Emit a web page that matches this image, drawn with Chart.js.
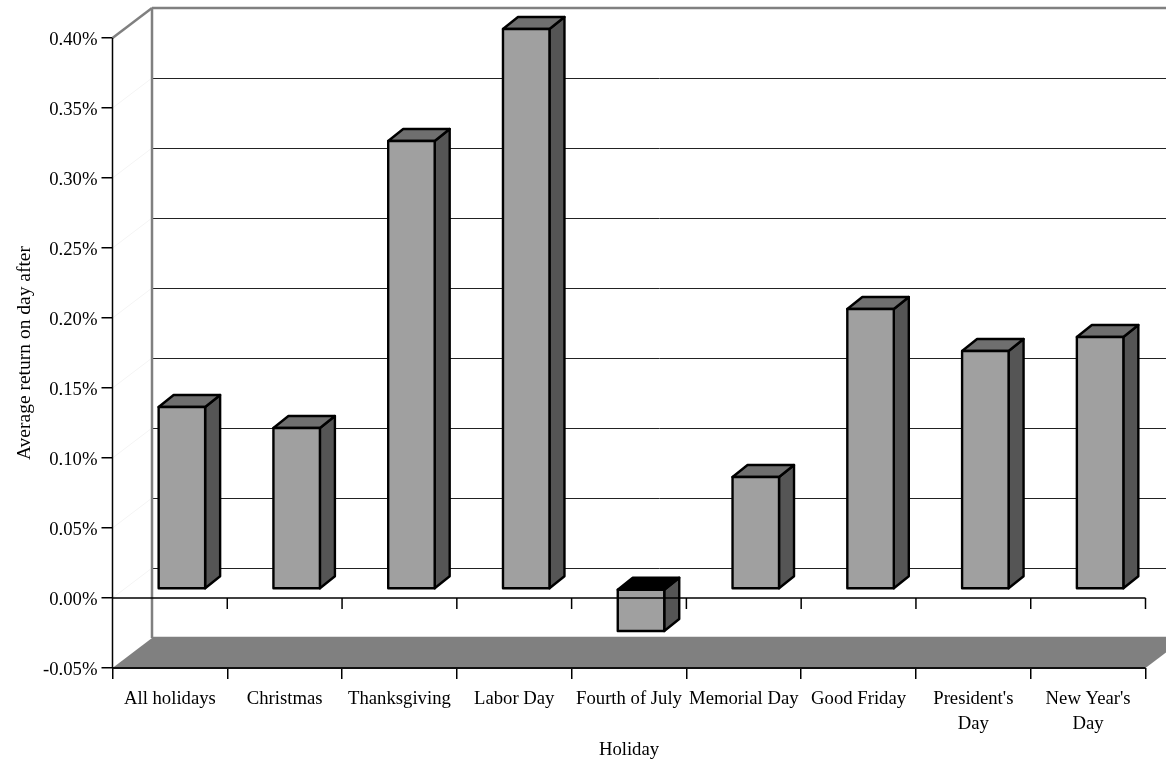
<!DOCTYPE html>
<html>
<head>
<meta charset="utf-8">
<title>Average return on day after holiday</title>
<script src="https://cdn.jsdelivr.net/npm/chart.js@4"></script>
<style>
  html, body { margin: 0; padding: 0; background: #fff; }
  canvas { display: block; }
</style>
</head>
<body>
<canvas id="chart" width="1166" height="760"></canvas>
<script>
const holidays = ['All holidays', 'Christmas', 'Thanksgiving', 'Labor Day', 'Fourth of July',
  'Memorial Day', 'Good Friday', ["President's", 'Day'], ["New Year's", 'Day']]
const avgReturn = [0.13, 0.115, 0.32, 0.40, -0.03, 0.08, 0.20, 0.17, 0.18]
const wallTicks = [-0.05, 0, 0.05, 0.10, 0.15, 0.20, 0.25, 0.30, 0.35, 0.40]

const fontFamily = '"Liberation Serif", "Times New Roman", serif'
const wallDepth = { x: 39.5, y: -30 }
const barShift = { x: 12, y: -9 }
const barDepth = { x: 15, y: -12 }

function fillPoly(ctx, pts, fill, stroke, width) {
  ctx.beginPath()
  pts.forEach((p, i) => i ? ctx.lineTo(p[0], p[1]) : ctx.moveTo(p[0], p[1]))
  ctx.closePath()
  if (fill) { ctx.fillStyle = fill; ctx.fill() }
  if (stroke) { ctx.strokeStyle = stroke; ctx.lineWidth = width; ctx.stroke() }
}

function line(ctx, x1, y1, x2, y2, color, width) {
  ctx.beginPath()
  ctx.moveTo(x1, y1)
  ctx.lineTo(x2, y2)
  ctx.strokeStyle = color
  ctx.lineWidth = width
  ctx.stroke()
}

// back wall, side wall and floor
const wallPlugin = {
  id: 'wall',
  beforeDatasetsDraw(chart) {
    const { ctx, chartArea: a, scales: { y } } = chart
    const dx = wallDepth.x, dy = wallDepth.y
    ctx.save()
    wallTicks.forEach(v => {
      const py = y.getPixelForValue(v)
      const edge = v === wallTicks[0] || v === wallTicks[wallTicks.length - 1]
      if (!edge) {
        line(ctx, a.left, py, a.left + dx, py + dy, '#f4f4f4', 1)
        line(ctx, a.left + dx, py + dy + 0.5, a.right + dx, py + dy + 0.5, '#222', 1)
      } else {
        line(ctx, a.left + dx, py + dy, a.right + dx, py + dy, '#808080', 2.5)
      }
    })
    const top = y.getPixelForValue(0.40), bottom = y.getPixelForValue(-0.05)
    line(ctx, a.left, top, a.left + dx, top + dy, '#808080', 2.5)
    line(ctx, a.left + dx, top + dy, a.left + dx, bottom + dy, '#808080', 2.5)
    fillPoly(ctx, [[a.left, bottom], [a.left + dx, bottom + dy], [a.right + dx, bottom + dy], [a.right, bottom]], '#808080')
    line(ctx, a.left, bottom, a.right, bottom, '#111', 2)
    line(ctx, a.left, top, a.left, bottom, '#000', 1.5)
    ctx.restore()
  },
  beforeDatasetDraw(chart) {
    const ctx = chart.ctx
    ctx.save()
    ctx.translate(barShift.x, barShift.y)
    ctx.lineJoin = 'round'
    chart.getDatasetMeta(0).data.forEach((el, i) => {
      const l = el.x - el.width / 2, r = el.x + el.width / 2
      const t = Math.min(el.y, el.base), b = Math.max(el.y, el.base)
      const dx = barDepth.x, dy = barDepth.y
      fillPoly(ctx, [[r, t], [r + dx, t + dy], [r + dx, b + dy], [r, b]], '#555555', '#000', 2.4)
      fillPoly(ctx, [[l, t], [l + dx, t + dy], [r + dx, t + dy], [r, t]], avgReturn[i] < 0 ? '#000000' : '#6f6f6f', '#000', 2.4)
    })
  },
  afterDatasetDraw(chart) {
    const ctx = chart.ctx
    chart.getDatasetMeta(0).data.forEach(el => {
      const l = el.x - el.width / 2, r = el.x + el.width / 2
      fillPoly(ctx, [[l, el.y], [r, el.y], [r, el.base], [l, el.base]], null, '#000', 2.4)
    })
    ctx.restore()
  },
  // the zero line runs in front of the bars
  afterDatasetsDraw(chart) {
    const { ctx, chartArea: a, scales: { x, y } } = chart
    const py = y.getPixelForValue(0)
    ctx.save()
    line(ctx, a.left, py, a.right, py, '#000', 1.5)
    const step = (a.right - a.left) / holidays.length
    holidays.forEach((h, i) => {
      const px = x.getPixelForValue(i) + step / 2
      line(ctx, px, py, px, py + 11, '#000', 1.5)
    })
    ctx.restore()
  }
}

new Chart(document.getElementById('chart'), {
  type: 'bar',
  plugins: [wallPlugin],
  data: {
    labels: holidays,
    datasets: [{
      data: avgReturn,
      backgroundColor: '#a0a0a0',
      borderWidth: 0,
      categoryPercentage: 1,
      barPercentage: 0.405,
      clip: false
    }]
  },
  options: {
    responsive: false,
    animation: false,
    layout: { padding: { top: 38, right: 20.5, left: 0, bottom: 0 } },
    plugins: { legend: { display: false }, title: { display: false }, tooltip: { enabled: false } },
    scales: {
      x: {
        afterFit(scale) { scale.height = 92 },
        grid: { drawOnChartArea: false, color: '#000', tickLength: 11, lineWidth: 1.5 },
        border: { display: false },
        ticks: {
          autoSkip: false, maxRotation: 0, minRotation: 0, padding: 7, color: '#000',
          font: { family: fontFamily, size: 18.7, lineHeight: 1.35 }
        },
        title: { display: true, text: 'Holiday', color: '#000', padding: { top: 0, bottom: 0 }, font: { family: fontFamily, size: 18.7, lineHeight: 1.1 } }
      },
      y: {
        min: -0.05,
        max: 0.40,
        afterFit(scale) { scale.width = 112.5 },
        afterBuildTicks(scale) { scale.ticks = wallTicks.map(value => ({ value })) },
        grid: { drawOnChartArea: false, color: '#000', tickLength: 11, lineWidth: 1.5 },
        border: { display: false },
        ticks: {
          padding: 4, color: '#000', labelOffset: 2,
          font: { family: fontFamily, size: 18.7 },
          callback: v => v.toFixed(2) + '%'
        },
        title: { display: true, text: 'Average return on day after', color: '#000', padding: { top: 13, bottom: 0 }, font: { family: fontFamily, size: 19.5 } }
      }
    }
  }
})
</script>
</body>
</html>
